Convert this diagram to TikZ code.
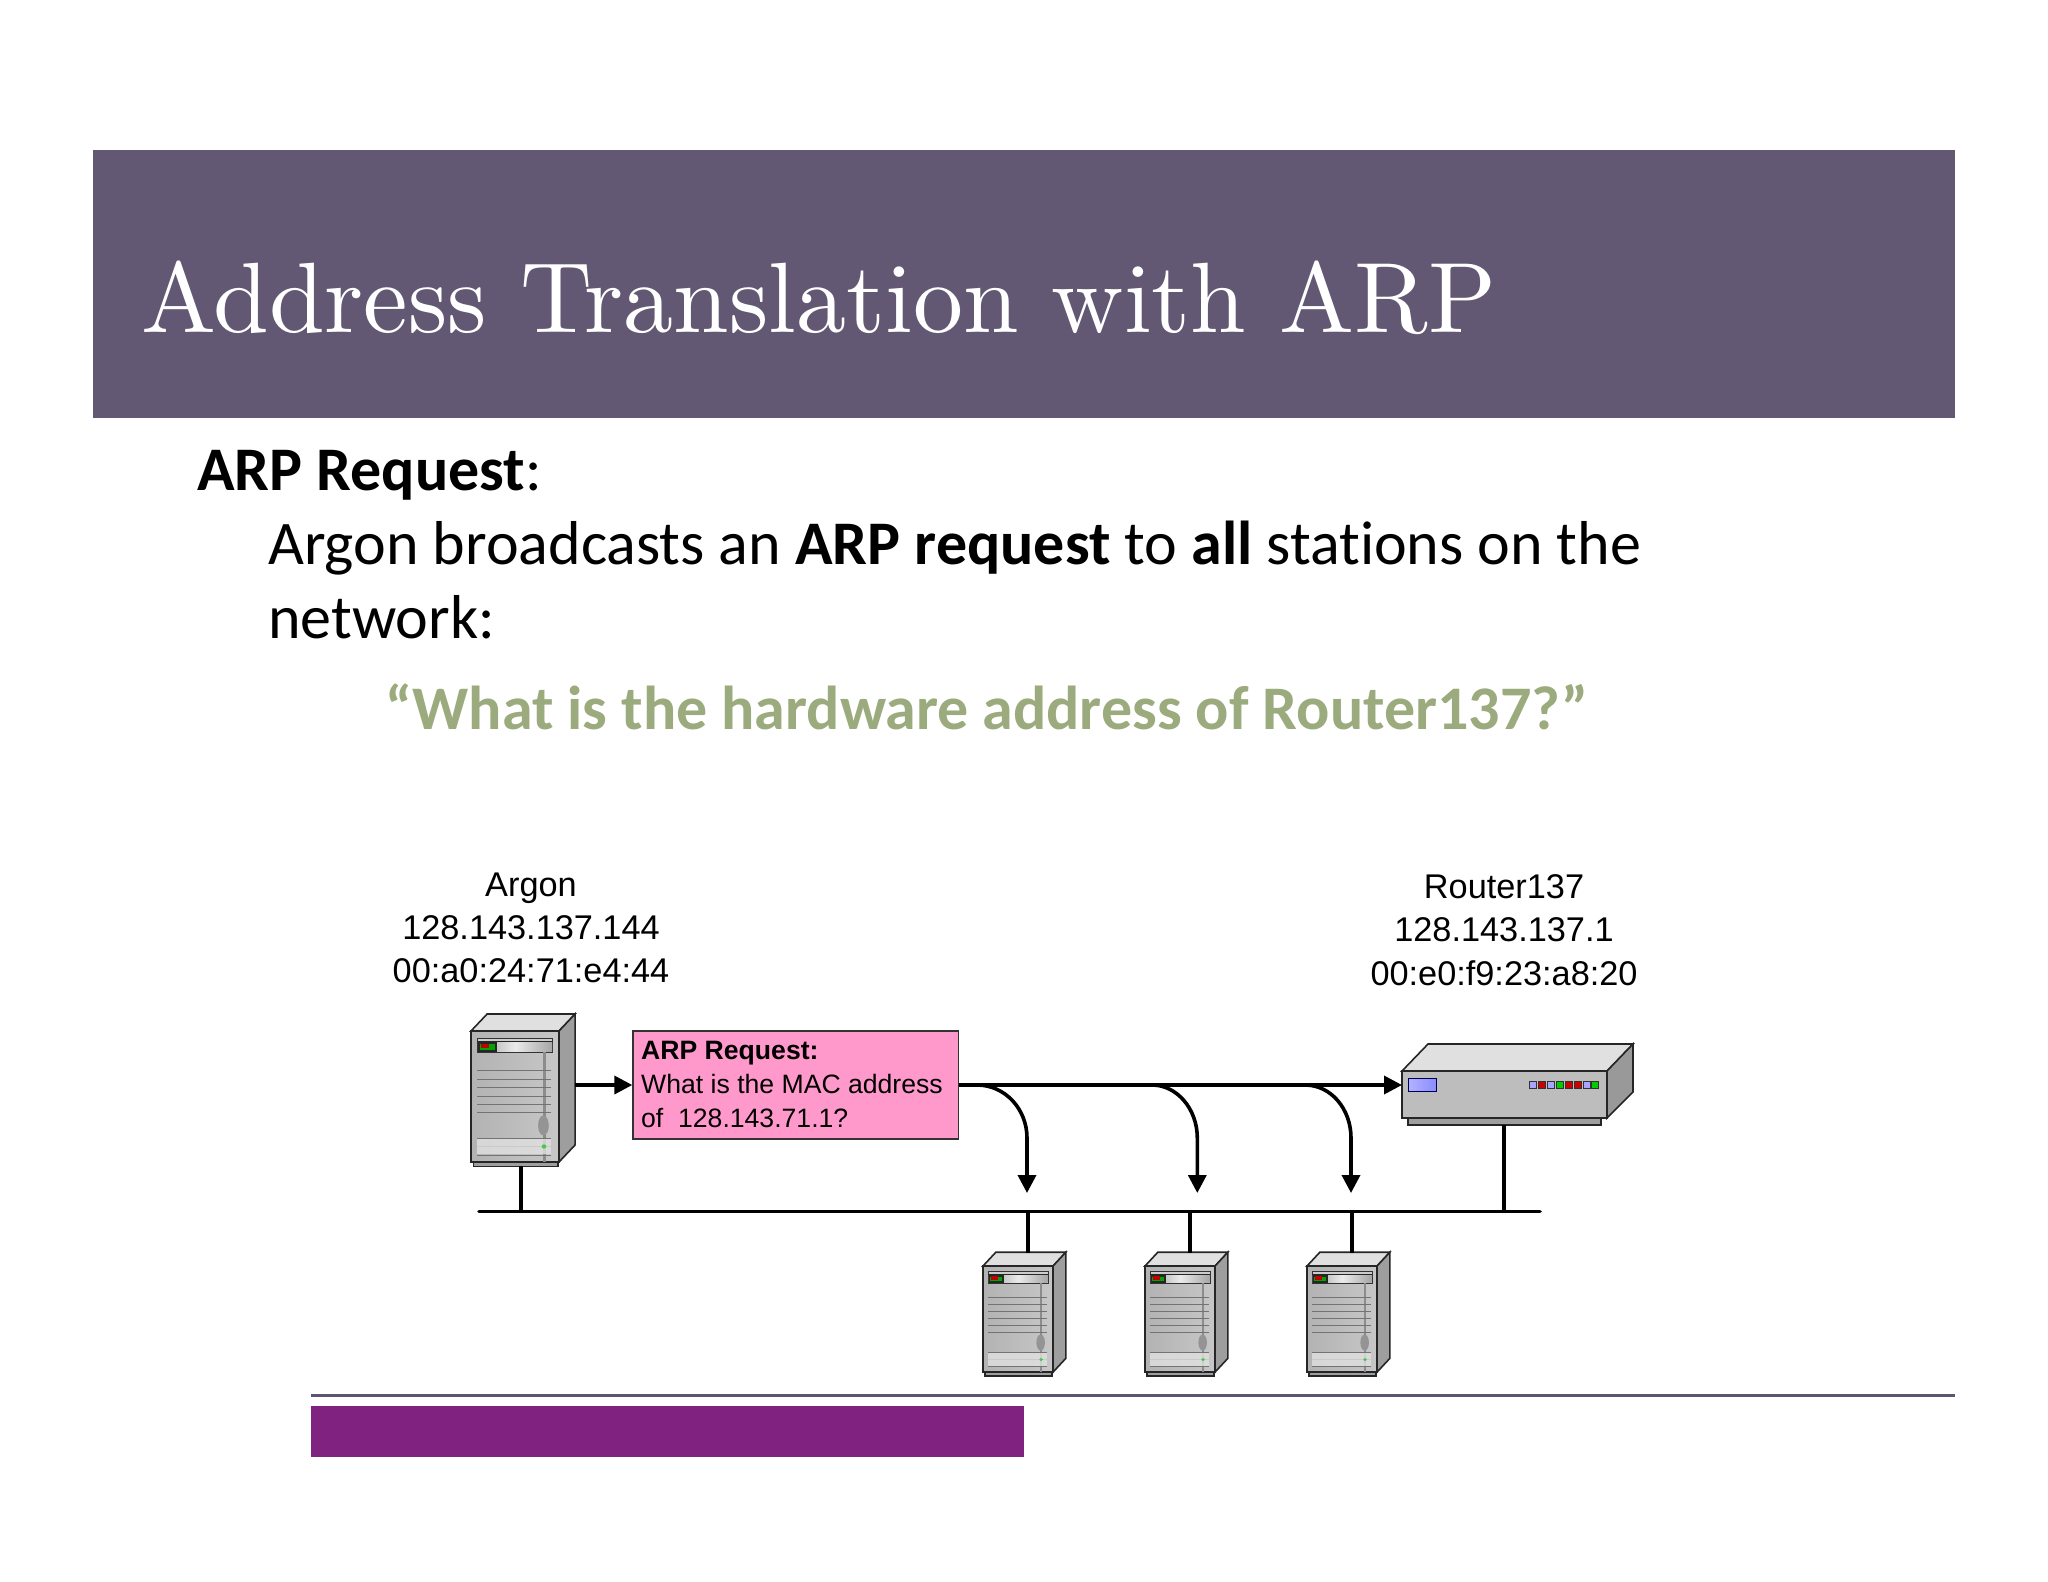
\documentclass[tikz,border=0pt]{standalone}
\usepackage{fontspec}
\setmainfont{Liberation Sans}
\newfontfamily\bodyfont[Ligatures=NoCommon]{Carlito}
\newfontfamily\titlefont{lmroman10-regular.otf}
\usetikzlibrary{arrows.meta}
\definecolor{hdr}{HTML}{635874}
\definecolor{grn}{HTML}{9BAB7E}
\definecolor{pinkbox}{HTML}{FF99CC}
\definecolor{purp}{HTML}{7F2280}
\definecolor{rule}{HTML}{5C5570}
\tikzset{
 wire/.style={line width=3.6pt,black},
 net/.style={wire,-{Triangle[length=18pt,width=18pt]}},
 lbl/.style={align=center,font=\fontsize{34.3}{43.2}\selectfont,inner sep=0},
 body/.style={anchor=base west,inner sep=0,font=\bodyfont\fontsize{62}{70}\selectfont},
 reqtext/.style={anchor=base west,inner sep=0,font=\fontsize{26.6}{34}\selectfont},
 edge/.style={draw=black!85,line width=1.6pt},
 pics/serverbox/.style={code={
  \draw[edge,fill=black!38] (2.5,131) rectangle (81,135.5);
  \draw[edge,fill=black!12] (0,0) -- (15,-17) -- (97,-17) -- (82,0) -- cycle;
  \draw[edge,fill=black!38] (82,0) -- (97,-17) -- (97,114) -- (82,131) -- cycle;
  \draw[edge,left color=black!30,right color=black!22] (0,0) rectangle (82,131);
  \draw[black!80,line width=.8pt,fill=black!20] (6,7) rectangle (76,21);
  \shade[left color=black!35,right color=black!35,middle color=black!8] (7,10.5) rectangle (75.5,20.5);
  \draw[black!85,line width=1pt] (6,10.5) -- (76,10.5);
  \fill[black!85] (6.5,11) rectangle (24,21);
  \fill[green!65!black] (8,13) rectangle (22.5,19);
  \fill[red!75!black] (9.5,12.5) rectangle (17,17);
  \fill[black!45] (67,21) rectangle (69.5,131);
  \foreach \yy in {39,48,56.5,65,73,81.5,107,115.5,124}
    \draw[black!55,line width=.9pt] (6,\yy) -- (75,\yy);
  \fill[black!12,opacity=.8] (6,108) rectangle (75,123);
  \fill[black!42] (67.5,94.5) ellipse (5 and 10);
  \fill[green!70!black!70] (68,115.5) circle (2.2);
 }}
}
\begin{document}
\begin{tikzpicture}[x=1pt,y=-1pt]
\useasboundingbox (0,0) rectangle (2048,1582);
\fill[white] (0,0) rectangle (2048,1582);
\fill[hdr] (93,150) rectangle (1955,418);
\node[anchor=base west,inner sep=0,white,font=\titlefont\fontsize{100}{105}\selectfont] (title) at (141,332) {Address Translation with ARP};
\node[body] (h) at (197,490) {\textbf{ARP Request}:};
\node[body] (l1) at (268,564) {Argon broadcasts an \textbf{ARP request} to \textbf{all} stations on the};
\node[body] (l2) at (268,638) {network:};
\node[body,text=grn] (q) at (385,729) {\textbf{“What is the hardware address of Router137?”}};
\node[lbl] (argonlbl) at (531,928) {Argon\\128.143.137.144\\00:a0:24:71:e4:44};
\node[lbl] (routerlbl) at (1504,930) {Router137\\128.143.137.1\\00:e0:f9:23:a8:20};

\begin{scope}[shift={(471,1031)},xscale=1.073]\pic[transform shape] {serverbox};\end{scope}
\begin{scope}[shift={(983,1266)},xscale=.854,yscale=.81]\pic[transform shape] {serverbox};\end{scope}
\begin{scope}[shift={(1145,1266)},xscale=.854,yscale=.81]\pic[transform shape] {serverbox};\end{scope}
\begin{scope}[shift={(1307,1266)},xscale=.854,yscale=.81]\pic[transform shape] {serverbox};\end{scope}

% router
\draw[edge,fill=black!38] (1408,1118) rectangle (1601,1125);
\draw[edge,fill=black!12] (1402,1071) -- (1428,1044) -- (1633,1044) -- (1607,1071) -- cycle;
\draw[edge,fill=black!40] (1607,1071) -- (1633,1044) -- (1633,1092) -- (1607,1118) -- cycle;
\draw[edge,fill=black!26] (1402,1071) rectangle (1607,1118);
\draw[line width=1pt,draw=blue!30!black,left color=blue!30!white,right color=blue!45!white] (1408,1078) rectangle (1436,1091);
\foreach \xx/\cc in {1533/blue!35!white,1542/red!80!black,1551/blue!35!white,1560/green!80!black,1569/red!80!black,1578/red!80!black,1587/blue!35!white,1595/green!80!black}
  \draw[line width=.9pt,fill=\cc,draw=black!80] (\xx-3.3,1081.7) rectangle (\xx+3.3,1088.3);

\node[draw=black!80,line width=1.4pt,fill=pinkbox,minimum width=325.6pt,minimum height=108pt,inner sep=0] (req) at (795.8,1085) {};
\node[reqtext,font=\fontsize{26.6}{34}\selectfont\bfseries] (t1) at (641,1059) {ARP Request:};
\node[reqtext] (t2) at (641,1093) {What is the MAC address};
\node[reqtext] (t3) at (641,1127) {of\ \ 128.143.71.1?};

\coordinate (argonR) at (574.6,1085);
\coordinate (routerL) at (1402,1085);
\coordinate (busL) at (479,1211.5);
\coordinate (busR) at (1540,1211.5);
\coordinate (a0) at (521,1166); \coordinate (a1) at (521,1211.5);
\coordinate (r0) at (1504,1125); \coordinate (r1) at (1504,1211.5);
\coordinate (s1a) at (1028,1211.5); \coordinate (s1b) at (1028,1253);
\coordinate (s2a) at (1190,1211.5); \coordinate (s2b) at (1190,1253);
\coordinate (s3a) at (1352,1211.5); \coordinate (s3b) at (1352,1253);
\coordinate (c1) at (977,1085); \coordinate (c2) at (1152,1085); \coordinate (c3) at (1305,1085);
\coordinate (d1) at (1027,1193); \coordinate (d2) at (1197.3,1193); \coordinate (d3) at (1351,1193);

\draw[wire,line cap=round] (busL) -- (busR);
\draw[wire] (a0) -- (a1);
\draw[wire] (r0) -- (r1);
\draw[wire] (s1a) -- (s1b);
\draw[wire] (s2a) -- (s2b);
\draw[wire] (s3a) -- (s3b);
\draw[net] (argonR) -- (req.west);
\draw[net] (req.east) -- (routerL);
\draw[net] (c1) .. controls (1005,1085) and (1027,1109) .. (1027,1138) -- (d1);
\draw[net] (c2) .. controls (1177,1085) and (1197.3,1109) .. (1197.3,1138) -- (d2);
\draw[net] (c3) .. controls (1331,1085) and (1351,1109) .. (1351,1138) -- (d3);

\draw[rule,line width=2.2pt] (311,1395.5) -- (1955,1395.5);
\fill[purp] (311,1406) rectangle (1024,1457);
\end{tikzpicture}
\end{document}
